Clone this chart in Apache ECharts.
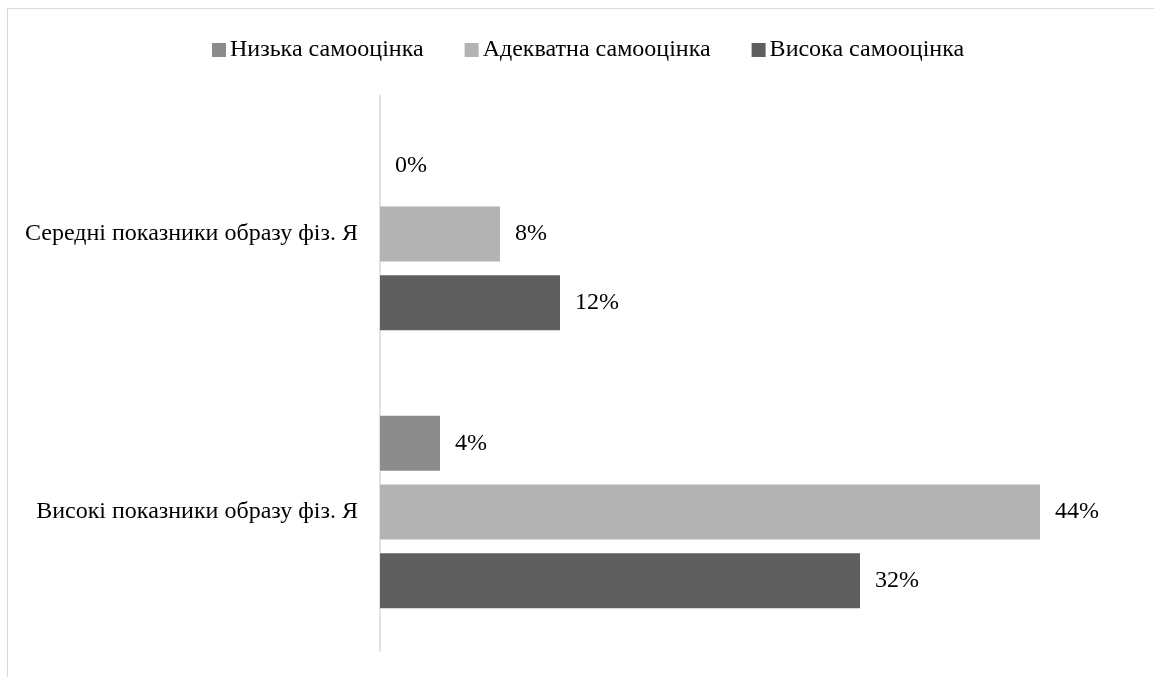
<!DOCTYPE html>
<html><head><meta charset="utf-8">
<script src="https://cdn.jsdelivr.net/npm/echarts@6/dist/echarts.min.js"></script>
<style>
html,body{margin:0;padding:0;width:1154px;height:677px;overflow:hidden;background:#fff;}
#frame{position:absolute;left:7px;top:8px;width:1300px;height:800px;border:1px solid #d9d9d9;box-sizing:border-box;}
#c{position:absolute;left:0;top:0;width:1154px;height:677px;}
</style></head>
<body><div id="frame"></div><div id="c"></div>
<script>
const categories = ['Середні показники образу фіз. Я', 'Високі показники образу фіз. Я'];
const seriesNames = ['Низька самооцінка', 'Адекватна самооцінка', 'Висока самооцінка'];
const low = [0, 4];
const adequate = [8, 44];
const high = [12, 32];
const colors = ['#8c8c8c', '#b3b3b3', '#5f5f5f'];
const font = '"Liberation Serif", "DejaVu Serif", serif';

const chart = echarts.init(document.getElementById('c'), null, {renderer: 'canvas'});
const data = [low, adequate, high];
chart.setOption({
  animation: false,
  backgroundColor: 'transparent',
  legend: {
    top: 33, left: 207, itemWidth: 14, itemHeight: 14, itemGap: 41,
    icon: 'rect',
    textStyle: {fontFamily: font, fontSize: 24, color: '#000', padding: [0,0,0,-1]},
    data: seriesNames
  },
  grid: {left: 380, top: 95, width: 750, height: 556, containLabel: false},
  xAxis: {
    type: 'value', min: 0, max: 50, show: false
  },
  yAxis: {
    type: 'category', data: categories, inverse: true,
    axisLine: {show: true, lineStyle: {color: '#d9d9d9', width: 1.5}},
    axisTick: {show: false},
    axisLabel: {fontFamily: font, fontSize: 24, color: '#000', margin: 22}
  },
  series: data.map((d, i) => ({
    name: seriesNames[i], type: 'bar', data: d,
    barWidth: 55, barGap: '25%',
    itemStyle: {color: colors[i]},
    label: {show: true, position: 'right', distance: 15, formatter: '{c}%',
      fontFamily: font, fontSize: 24, color: '#000'}
  }))
});
</script></body></html>
